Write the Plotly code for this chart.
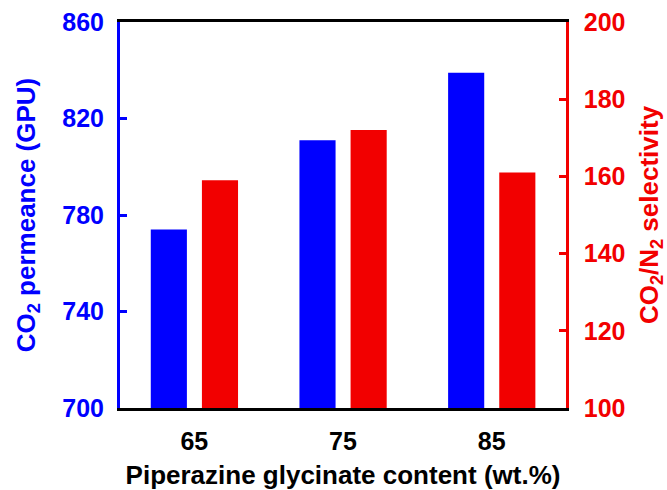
import plotly.graph_objects as go

categories = ["65", "75", "85"]
permeance = [774, 811, 839]
selectivity = [159, 172, 161]
left_ticks = [700, 740, 780, 820, 860]
right_ticks = [100, 120, 140, 160, 180, 200]

BLUE = "#0000FF"
RED = "#F20000"
FONT = "Liberation Sans, Arial, sans-serif"

fig = go.Figure()
fig.add_trace(go.Bar(x=categories, y=permeance, marker=dict(color=BLUE, line=dict(width=0)),
                     width=0.243, offset=-0.293, yaxis="y", showlegend=False))
fig.add_trace(go.Bar(x=categories, y=selectivity, marker=dict(color=RED, line=dict(width=0)),
                     width=0.243, offset=0.051, yaxis="y2", showlegend=False))

fig.update_layout(
    width=667, height=490,
    margin=dict(l=120, r=101, t=22, b=82),
    plot_bgcolor="white", paper_bgcolor="white",
    font=dict(family=FONT, size=25, color="black", weight="bold"),
    xaxis=dict(
        type="category", range=[-0.5, 2.5],
        showline=True, linecolor="black", linewidth=3, mirror=True,
        ticks="", showgrid=False, zeroline=False,
        tickfont=dict(family=FONT, size=25, color="black", weight="bold"),
        ticklabelstandoff=9,
        title=dict(text="Piperazine glycinate content (wt.%)",
                   font=dict(family=FONT, size=26, color="black", weight="bold"),
                   standoff=12),
        automargin=False,
    ),
    yaxis=dict(
        range=[700, 860], tickvals=left_ticks,
        showline=True, linecolor=BLUE, linewidth=3,
        ticks="inside", ticklen=7, tickwidth=3, tickcolor=BLUE,
        showgrid=False, zeroline=False,
        tickfont=dict(family=FONT, size=25, color=BLUE, weight="bold"),
        ticklabelstandoff=8,
        title=dict(text="CO<sub>2</sub> permeance (GPU)",
                   font=dict(family=FONT, size=26, color=BLUE, weight="bold"),
                   standoff=20),
        automargin=False,
    ),
    yaxis2=dict(
        range=[100, 200], tickvals=right_ticks,
        overlaying="y", side="right",
        showline=True, linecolor=RED, linewidth=2.5,
        ticks="inside", ticklen=7, tickwidth=2.5, tickcolor=RED,
        showgrid=False, zeroline=False,
        tickfont=dict(family=FONT, size=25, color=RED, weight="bold"),
        ticklabelstandoff=10,
        title=dict(text="CO<sub>2</sub>/N<sub>2</sub> selectivity",
                   font=dict(family=FONT, size=26, color=RED, weight="bold"),
                   standoff=16),
        automargin=False,
    ),
)

fig.write_html("out.html")
